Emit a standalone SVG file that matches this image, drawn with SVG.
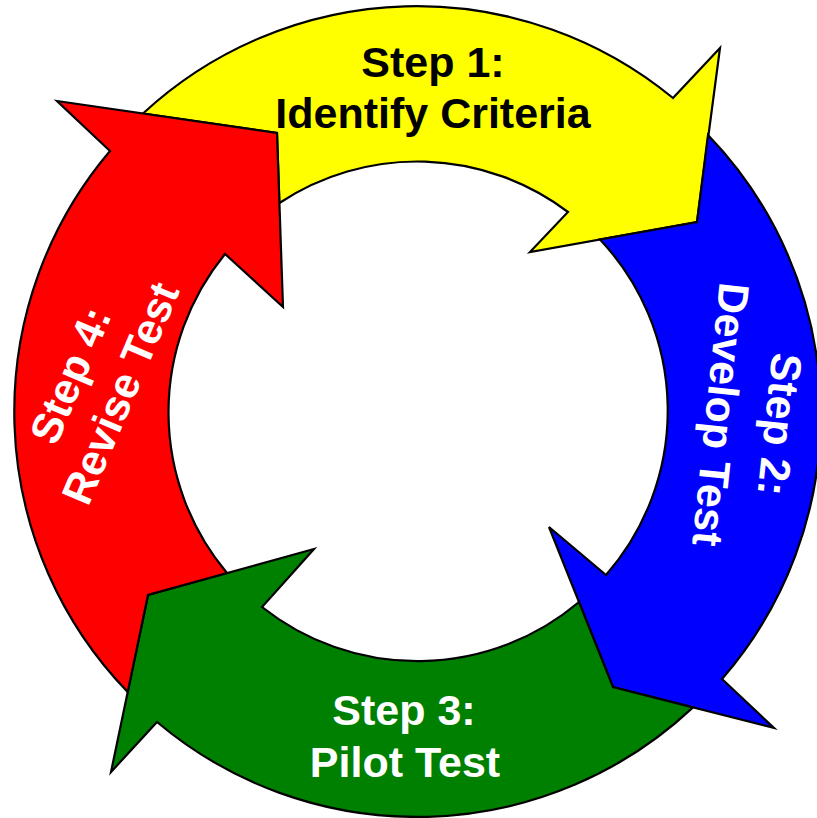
<svg xmlns="http://www.w3.org/2000/svg" width="817" height="818" viewBox="0 0 817 818">
<style>
.arrow{stroke:#000;stroke-width:2.2;stroke-linejoin:miter}
.lbl{font-family:"Liberation Sans",Arial,sans-serif;font-weight:bold;font-size:43px;text-anchor:middle}
.dark{fill:#000}
.light{fill:#fff}
</style>
<rect width="817" height="818" fill="#fff"/>
<g id="step1">
<path class="arrow" fill="#FFFF00" d="M143 113.5 A403 403 0 0 1 673 98 L720 48 L697 222 L530 252 L568 212 A250 250 0 0 0 279.4 203 L277 133 Z"/>
<text class="lbl dark" x="433" y="77">Step 1:</text>
<text class="lbl dark" x="433" y="128">Identify Criteria</text>
</g>
<g id="step2">
<path class="arrow" fill="#0000FF" d="M708 135 A403 403 0 0 1 722 679 L774 728 L613 687 L549 527 L606 575 A250 250 0 0 0 600 239.4 L697 222 Z"/>
<text class="lbl light" transform="translate(765,423) rotate(96)">Step 2:</text>
<text class="lbl light" transform="translate(706,413) rotate(96)">Develop Test</text>
</g>
<g id="step3">
<path class="arrow" fill="#008000" d="M693 707.4 A403 403 0 0 1 157 722 L111 772 L148 595 L314 549 L262 607 A250 250 0 0 0 579 602 L613 687 Z"/>
<text class="lbl light" x="404" y="725">Step 3:</text>
<text class="lbl light" x="405" y="777">Pilot Test</text>
</g>
<g id="step4">
<path class="arrow" fill="#FF0000" d="M127.7 692 A403 403 0 0 1 110 151 L57 101 L277 133 L283 307 L225 254 A250 250 0 0 0 227 573 L148 595 Z"/>
<text class="lbl light" transform="translate(84,381) rotate(-67)">Step 4:</text>
<text class="lbl light" transform="translate(134,399) rotate(-67)">Revise Test</text>
</g>
<g id="connectors"></g>
</svg>
